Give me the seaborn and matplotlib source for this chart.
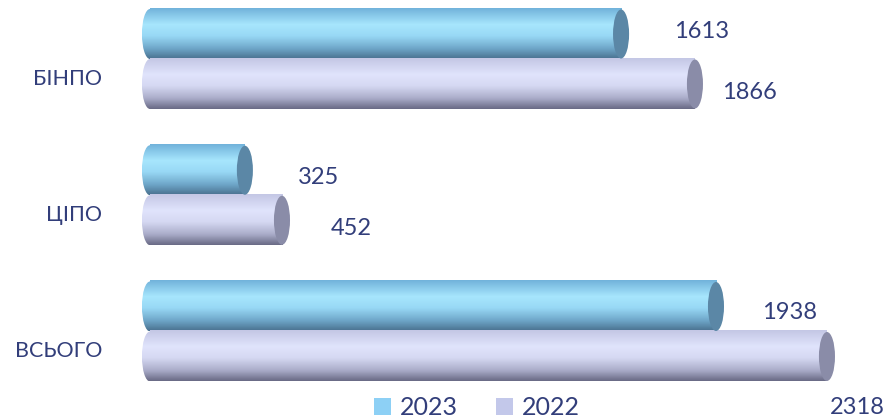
import numpy as np
import pandas as pd
import seaborn as sns
import matplotlib.pyplot as plt
from matplotlib.colors import LinearSegmentedColormap
from matplotlib.patches import Ellipse, Patch

categories = ["БІНПО", "ЦІПО", "ВСЬОГО"]
years = ["2023", "2022"]
values_2023 = [1613, 325, 1938]
values_2022 = [1866, 452, 2318]

# label offsets (points) from the bar tip, per year
offsets_2023 = [(58, 2), (53, -5), (53, -4)]
offsets_2022 = [(39, -6), (50, -6), (22, -37)]

TEXT = "#323e7a"
body_colors = {
    "2023": ["#72b3db", "#a7e6fd", "#98d8f5", "#6ea6c8", "#4a7290"],
    "2022": ["#c4c7e5", "#e0e4fc", "#d5d8f2", "#a9abc8", "#6a6b86"],
}
cap_colors = {"2023": "#5b87a6", "2022": "#8a8ca8"}
legend_colors = {"2023": "#8dd0f5", "2022": "#c3c8ea"}

df = pd.DataFrame({
    "category": categories * 2,
    "year": [years[0]] * 3 + [years[1]] * 3,
    "value": values_2023 + values_2022,
})

sns.set_style("white")
plt.rcParams["font.family"] = ["Lato", "DejaVu Sans"]

fig = plt.figure(figsize=(8.88, 4.18), dpi=100)
ax = fig.add_axes([141.2 / 888, 0, 746.8 / 888, 1])

sns.barplot(data=df, x="value", y="category", hue="year", hue_order=years,
            orient="h", width=0.734, palette=legend_colors, ax=ax,
            legend=False, errorbar=None)

cap_w = 55  # data units for the elliptical end cap
for year, cont, vals, offs in zip(years, ax.containers,
                                   [values_2023, values_2022],
                                   [offsets_2023, offsets_2022]):
    cmap = LinearSegmentedColormap.from_list(
        "c" + year, list(zip([0, 0.32, 0.55, 0.8, 1.0], body_colors[year])))
    grad = cmap(np.linspace(0, 1, 64))[:, None, :]
    for bar, v, off in zip(cont, vals, offs):
        bar.set_alpha(0)
        x0, y0 = bar.get_x(), bar.get_y()
        w, h = bar.get_width(), bar.get_height()
        ax.imshow(grad, extent=(x0, x0 + w, y0 + h, y0), origin="upper",
                  aspect="auto", interpolation="bilinear", zorder=3)
        # rounded left end
        left = Ellipse((x0, y0 + h / 2), cap_w, h, transform=ax.transData)
        im = ax.imshow(grad, extent=(x0 - cap_w / 2, x0 + 1, y0 + h, y0),
                       origin="upper", aspect="auto",
                       interpolation="bilinear", zorder=3)
        im.set_clip_path(left)
        ax.add_patch(Ellipse((x0 + w, y0 + h / 2), cap_w, h * 0.98,
                             facecolor=cap_colors[year], edgecolor="none",
                             zorder=4))
        ax.annotate(f"{v}", (x0 + w, y0 + h / 2), xytext=off,
                    textcoords="offset points", ha="center", va="center",
                    fontsize=17, color=TEXT, zorder=5)

ax.set_xlim(-30, 2527)
ax.set_ylim(2.635, -0.433)
ax.set_yticks(np.arange(len(categories)) + 0.132)
ax.set_yticklabels(categories, fontsize=15.5, color=TEXT)
ax.tick_params(axis="y", length=0, pad=28)
ax.set_xticks([])
ax.set_xlabel("")
ax.set_ylabel("")
sns.despine(ax=ax, left=True, bottom=True)

handles = [Patch(facecolor=legend_colors[y], edgecolor="none") for y in years]
fig.legend(handles, years, loc="center", bbox_to_anchor=(0.537, 0.024),
           ncol=2, frameon=False, fontsize=18, labelcolor=TEXT,
           handlelength=0.7, handleheight=0.7, handletextpad=0.35,
           columnspacing=1.5)

fig.savefig("out.png", dpi=100)
